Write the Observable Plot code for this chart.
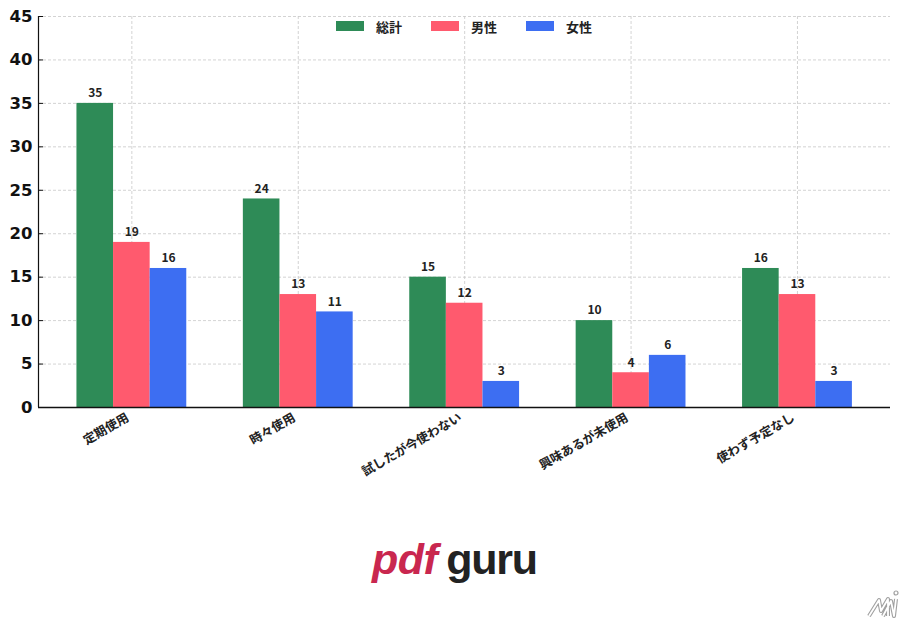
<!DOCTYPE html>
<html lang="ja"><head><meta charset="utf-8">
<script src="https://cdn.jsdelivr.net/npm/d3@7"></script>
<script src="https://cdn.jsdelivr.net/npm/@observablehq/plot@0.6"></script>
<style>
html,body{margin:0;padding:0;background:#fff;width:900px;height:620px;overflow:hidden}
#root{position:relative;width:900px;height:620px}
#legend{position:absolute;left:336px;top:17px;height:18px;display:flex;align-items:center;font:700 13px "Noto Sans CJK JP";color:#222}
#legend span.sw{display:inline-block;width:28px;height:10px;margin-right:12px}
#legend span.lb{display:inline-block;width:55px}
#logo{position:absolute;left:372px;top:531px;font:700 43px/56px "Liberation Sans";white-space:nowrap}
#logo .a{color:#c9274f;font-style:italic;letter-spacing:-0.5px}
#logo .b{color:#222;margin-left:9px;letter-spacing:-1.3px}
#mark{position:absolute;left:866px;top:589px}
</style></head><body><div id="root">
<div id="chart"></div>
<div id="legend"></div>
<div id="logo"><span class="a">pdf</span><span class="b">guru</span></div>
<svg id="mark" width="34" height="30" viewBox="0 0 34 30" fill="none"><g stroke-linejoin="round"><path d="M3 27L13 11L15 22L22 10L22 27M17 27L25 12L28 27L30 10" stroke="#a0a0a0" stroke-width="4"/><path d="M3 27L13 11L15 22L22 10L22 27M17 27L25 12L28 27L30 10" stroke="#fff" stroke-width="1.8"/></g><circle cx="30" cy="4" r="2" stroke="#a0a0a0" stroke-width="1.2"/></svg>
</div>
<script>
const categories = ["定期使用","時々使用","試したが今使わない","興味あるが未使用","使わず予定なし"];
const seriesNames = ["総計","男性","女性"];
const totalValues = [35,24,15,10,16];
const maleValues = [19,13,12,4,13];
const femaleValues = [16,11,3,6,3];
const colors = ["#2e8b57","#ff5a6e","#3d6ef2"];
const yTicks = [0,5,10,15,20,25,30,35,40,45];
const barWidth = 0.22;

const seriesValues = [totalValues, maleValues, femaleValues];
const rows = seriesNames.flatMap((s,i)=>categories.map((c,j)=>({
  category:c,series:s,value:seriesValues[i][j],
  left:j+(i-1.5)*barWidth,right:j+(i-0.5)*barWidth,mid:j+(i-1)*barWidth
})));
const xTicks = categories.map((c,i)=>i);
const gridStyle = {stroke:"#c8c8c8",strokeOpacity:1,strokeDasharray:"3 2",strokeWidth:0.8};
const chart = Plot.plot({
  width:900,height:620,marginTop:16,marginBottom:213,marginLeft:38,marginRight:10,
  style:{background:"#fff"},
  x:{domain:[-0.561,4.559],label:null},
  y:{domain:[0,45],label:null},
  color:{domain:seriesNames,range:colors},
  marks:[
    Plot.gridX(xTicks,{...gridStyle}),
    Plot.gridY(yTicks,{...gridStyle}),
    Plot.rectY(rows,{x1:"left",x2:"right",y:"value",fill:"series"}),
    Plot.text(rows,{x:"mid",y:"value",text:"value",dy:-10,fontSize:12,fontWeight:700,fontFamily:"Noto Sans CJK JP",fill:"#222"}),
    Plot.axisY({ticks:yTicks,label:null,tickSize:-5,tickPadding:11,fontSize:16.5,fontWeight:700,fontFamily:"DejaVu Sans",fill:"#111",stroke:"#111"}),
    Plot.axisX({ticks:xTicks,tickFormat:i=>categories[i],label:null,tickSize:0,tickPadding:9,tickRotate:-30,textAnchor:"end",lineAnchor:"middle",dx:-4,fontSize:12.5,fontWeight:700,fontFamily:"Noto Sans CJK JP",fill:"#222"}),
    Plot.ruleX([-0.561],{stroke:"#111",strokeWidth:1.2}),
    Plot.ruleY([0],{stroke:"#111",strokeWidth:1.5})
  ]
});
document.getElementById("chart").append(chart);
const legend = document.getElementById("legend");
seriesNames.forEach((s,i)=>{
  const sw=document.createElement("span");sw.className="sw";sw.style.background=colors[i];
  const lb=document.createElement("span");lb.className="lb";lb.textContent=s;
  legend.append(sw,lb);
});
</script></body></html>
